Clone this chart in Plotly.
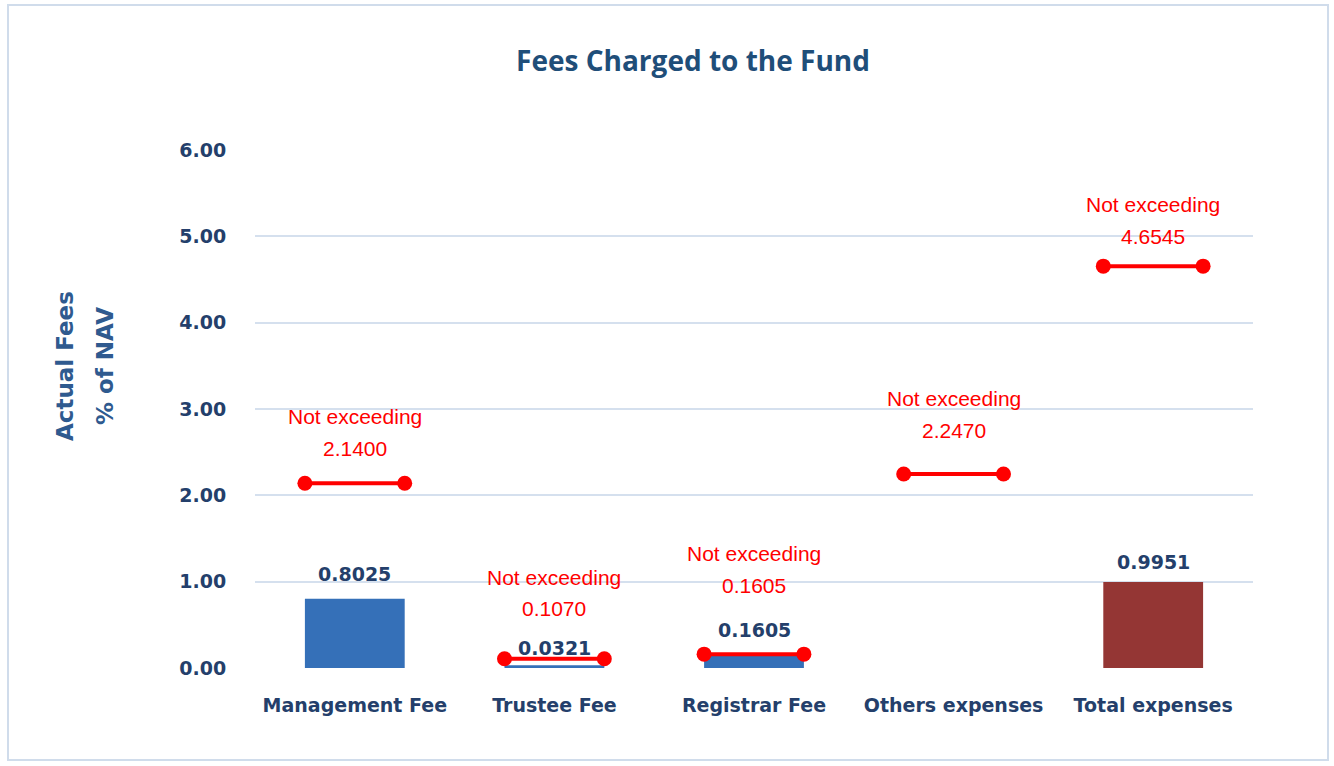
import plotly.graph_objects as go

categories = ["Management Fee", "Trustee Fee", "Registrar Fee", "Others expenses", "Total expenses"]
actual_fees = [0.8025, 0.0321, 0.1605, 0.0, 0.9951]
actual_labels = ["0.8025", "0.0321", "0.1605", "", "0.9951"]
limits = [2.1400, 0.1070, 0.1605, 2.2470, 4.6545]
limit_labels = ["2.1400", "0.1070", "0.1605", "2.2470", "4.6545"]
y_ticks = [0, 1, 2, 3, 4, 5, 6]
y_tick_labels = ["0.00", "1.00", "2.00", "3.00", "4.00", "5.00", "6.00"]

bar_colors = ["#3570B8", "#3570B8", "#3570B8", "#3570B8", "#943634"]
value_shift = [35, 50, 69, 44, 30]    # px above limit line: value text centre
caption_shift = [67, 81, 101, 76, 62]  # px above limit line: "Not exceeding" centre
bar_label_shift = [25, 17, 24, 20, 20]

navy = "#243F6B"
red = "#FF0000"
gfont = "DejaVu Sans"

fig = go.Figure()
xs = list(range(len(categories)))
fig.add_trace(go.Bar(
    x=xs, y=actual_fees, width=0.5,
    marker=dict(color=bar_colors, line=dict(width=0)),
    showlegend=False, hoverinfo="skip",
))
for i, v in enumerate(actual_fees):
    if actual_labels[i]:
        fig.add_annotation(x=i, y=v, text="<b>" + actual_labels[i] + "</b>", showarrow=False,
                           yanchor="middle", yshift=bar_label_shift[i],
                           font=dict(family=gfont, size=19, color=navy))

for i, v in enumerate(limits):
    fig.add_trace(go.Scatter(
        x=[i - 0.25, i + 0.25], y=[v, v], mode="lines+markers",
        line=dict(color=red, width=4),
        marker=dict(color=red, size=15),
        showlegend=False, hoverinfo="skip", cliponaxis=False,
    ))
    fig.add_annotation(x=i, y=v, text=limit_labels[i], showarrow=False,
                       yanchor="middle", yshift=value_shift[i],
                       font=dict(family="Liberation Sans, Arial", size=21, color=red))
    fig.add_annotation(x=i, y=v, text="Not exceeding", showarrow=False,
                       yanchor="middle", yshift=caption_shift[i],
                       font=dict(family="Liberation Sans, Arial", size=21, color=red))

fig.add_annotation(xref="paper", yref="paper", x=-190 / 998, y=(668 - 366) / 518,
                   text="<b>Actual Fees</b>", textangle=-90, showarrow=False,
                   xanchor="center", yanchor="middle",
                   font=dict(family=gfont, size=23, color="#2F5A8F"))
fig.add_annotation(xref="paper", yref="paper", x=-150 / 998, y=(668 - 366) / 518,
                   text="<b>% of NAV</b>", textangle=-90, showarrow=False,
                   xanchor="center", yanchor="middle",
                   font=dict(family=gfont, size=23, color="#2F5A8F"))

fig.update_layout(
    width=1334, height=766,
    margin=dict(l=255, r=81, t=150, b=98),
    paper_bgcolor="white", plot_bgcolor="white",
    title=dict(text="<b>Fees Charged to the Fund</b>", x=693 / 1334, xanchor="center",
               xref="container", y=1 - 61 / 766, yanchor="middle", yref="container",
               font=dict(family="Open Sans", size=28, color="#1F4E79")),
    xaxis=dict(range=[-0.5, 4.5], tickvals=xs, ticktext=["<b>" + c + "</b>" for c in categories],
               showgrid=False, zeroline=False, showline=False, ticks="outside", ticklen=20,
               tickcolor="rgba(0,0,0,0)",
               tickfont=dict(family=gfont, size=19, color=navy)),
    yaxis=dict(range=[0, 6], tickvals=y_ticks, ticktext=["<b>" + t + "</b>" for t in y_tick_labels],
               showgrid=True, gridcolor="#D5E0EE", gridwidth=2, zeroline=False,
               ticks="outside", ticklen=24, tickcolor="rgba(0,0,0,0)",
               tickfont=dict(family=gfont, size=19, color=navy)),
    shapes=[dict(type="rect", xref="paper", yref="paper", x0=-247 / 998, x1=1 + 75 / 998,
                 y0=-92 / 518, y1=1 + 145 / 518, line=dict(color="#D0DCEB", width=2))],
)

fig.write_html("out.html")
